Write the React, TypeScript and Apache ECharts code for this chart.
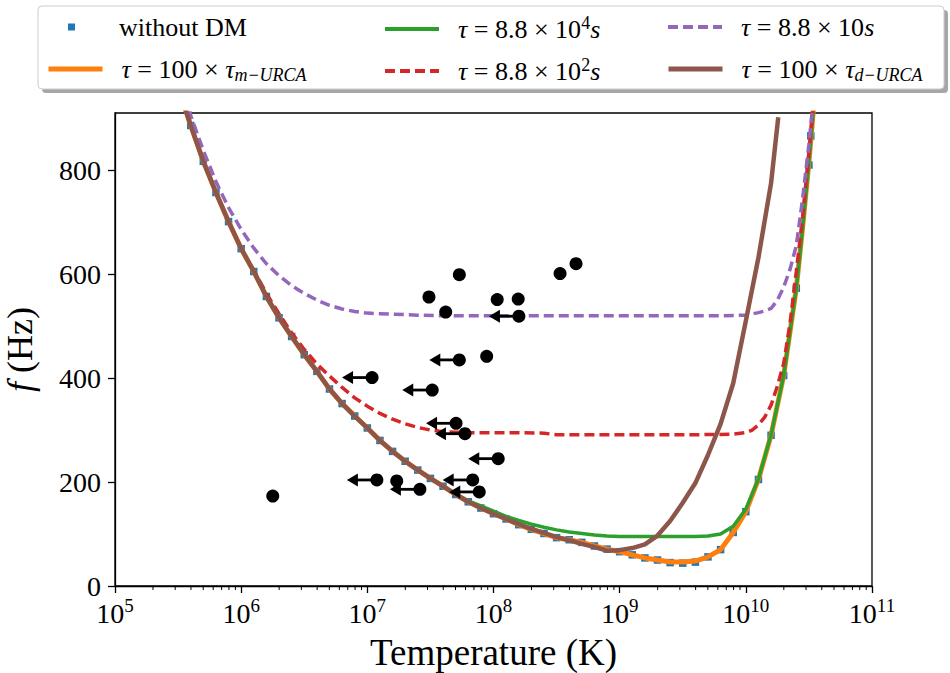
import React, { useEffect, useRef } from 'react';
import * as echarts from 'echarts';

const FONT = 'Liberation Serif';

// ---- curves: log10(T [K]) and f [Hz] ----
const squareLogT = [5.6,5.7,5.8,5.9,6.0,6.1,6.2,6.3,6.4,6.5,6.6,6.7,6.8,6.9,7.0,7.1,7.2,7.3,7.4,7.5,7.6,7.7,7.8,7.9,8.0,8.1,8.2,8.3,8.4,8.5,8.6,8.7,8.8,8.9,9.0,9.1,9.2,9.3,9.4,9.5,9.6,9.7,9.8,9.9,10.0,10.1,10.2,10.3,10.4,10.5,10.515];
const squareF = [886,817,757,701,649,605,557,516,480,445,413,379,351,327,304,280,259,240,223,207,192,176,162,150,139,129,118,109,101,93,89,84,77,71,66,60,54,50,45,44,46,56,70,103,143,205,290,405,573,810,866];

const orangeLogT = [5.5,5.6,5.7,5.8,5.9,6.0,6.1,6.2,6.3,6.4,6.5,6.6,6.7,6.8,6.9,7.0,7.1,7.2,7.3,7.4,7.5,7.6,7.7,7.8,7.9,8.0,8.1,8.2,8.3,8.4,8.5,8.6,8.7,8.8,8.9,9.0,9.1,9.2,9.3,9.4,9.5,9.6,9.7,9.8,9.9,10.0,10.1,10.2,10.3,10.4,10.45,10.5,10.54];
const orangeF = [960,886,817,757,701,649,605,557,516,480,445,413,379,351,327,304,280,259,240,223,207,192,176,162,150,139,129,118,109,101,93,89,84,77,71,66,60,54,50,46,46,48,56,70,103,143,205,290,405,573,690,815,930];

const greenLogT = [5.5,5.6,5.7,5.8,5.9,6.0,6.1,6.2,6.3,6.4,6.5,6.6,6.7,6.8,6.9,7.0,7.1,7.2,7.3,7.4,7.5,7.6,7.7,7.8,7.9,8.0,8.1,8.2,8.3,8.4,8.5,8.6,8.7,8.8,8.9,9.0,9.1,9.2,9.3,9.4,9.5,9.6,9.7,9.8,9.9,10.0,10.1,10.2,10.3,10.4,10.45,10.5,10.54];
const greenF = [960,886,817,757,701,649,605,557,516,480,445,413,379,351,327,304,280,259,240,223,207,192,177,164,154,144,134,126,119,113,108,104,101,98,96,95,95,95,95,95,95,95,96,100,115,148,206,291,405,573,688,815,930];

const redLogT = [5.5,5.6,5.7,5.8,5.9,6.0,6.1,6.2,6.3,6.4,6.5,6.6,6.7,6.8,6.9,7.0,7.1,7.2,7.3,7.4,7.5,7.6,7.7,7.8,8.0,8.2,8.4,8.5,8.7,9.0,9.3,9.6,9.9,10.0,10.05,10.1,10.15,10.2,10.25,10.3,10.35,10.4,10.45,10.5,10.54];
const redF = [960,886,817,757,701,649,607,563,524,487,455,427,404,382,362,346,332,321,312,305,300,297,296,295,295,295,294,291,291,291,291,291,292,295,300,310,325,348,385,428,505,605,710,835,940];

const purpleLogT = [5.5,5.6,5.7,5.8,5.9,6.0,6.1,6.2,6.3,6.4,6.5,6.6,6.7,6.8,6.9,7.0,7.1,7.2,7.3,7.4,7.6,8.0,8.5,9.0,9.5,9.8,10.0,10.1,10.15,10.2,10.25,10.3,10.35,10.4,10.45,10.5,10.54];
const purpleF = [1030,905,838,778,728,686,650,620,597,578,563,550,540,533,528,525,524,523,522,521,520,520,520,520,520,520,521,526,529,534,550,575,609,655,745,850,950];

const brownLogT = [5.5,5.6,5.7,5.8,5.9,6.0,6.1,6.2,6.3,6.4,6.5,6.6,6.7,6.8,6.9,7.0,7.1,7.2,7.3,7.4,7.5,7.6,7.7,7.8,7.9,8.0,8.1,8.2,8.3,8.4,8.5,8.6,8.7,8.8,8.9,9.0,9.1,9.2,9.3,9.4,9.5,9.6,9.7,9.8,9.9,10.0,10.1,10.2,10.257];
const brownF = [960,886,817,757,701,649,605,557,516,480,445,413,379,351,327,304,280,259,240,223,207,192,176,162,150,139,129,119,110,102,94,88,81,75,68,69,73,80,97,125,160,198,252,312,390,510,632,775,902];

// ---- observed pulsars ----
const detectT = [1.78e6, 5.36e7, 3.08e7, 4.18e7, 1.07e8, 1.57e8, 3.37e8, 4.51e8, 8.83e7, 1.71e7];
const detectF = [173, 599, 556, 527, 551, 552, 601, 620, 442, 202];
const limitT = [1.59e8, 5.36e7, 1.09e7, 3.27e7, 5.05e7, 5.94e7, 1.09e8, 1.19e7, 2.61e7, 6.84e7, 7.71e7];
const limitF = [519, 435, 401, 377, 313, 293, 245, 204, 186, 204, 181];

// ---- axis ticks ----
const yTicks = [0, 200, 400, 600, 800];
const minorDecades = [1e5, 1e6, 1e7, 1e8, 1e9, 1e10];
const minorMultipliers = [2, 3, 4, 5, 6, 7, 8, 9];

// ---- series names ----
const N0 = 'without DM';
const N1 = 'τ = 100 × τm−URCA';
const N2 = 'τ = 8.8 × 10⁴s';
const N3 = 'τ = 8.8 × 10²s';
const N4 = 'τ = 8.8 × 10s';
const N5 = 'τ = 100 × τd−URCA';

const legendRich: Record<string, string> = {
  [N0]: '{gap0| }{n|without DM}',
  [N1]: '{gap| }{i|τ}{n| = 100 × }{i|τ}{sub|m−URCA}',
  [N2]: '{gap| }{i|τ}{n| = 8.8 × 10}{sup|4}{i|s}',
  [N3]: '{gap| }{i|τ}{n| = 8.8 × 10}{sup|2}{i|s}',
  [N4]: '{gap| }{i|τ}{n| = 8.8 × 10}{i|s}',
  [N5]: '{gap| }{i|τ}{n| = 100 × }{i|τ}{sub|d−URCA}',
};

const LFS = 26;
const richStyles = {
  n: { fontFamily: FONT, fontSize: LFS, lineHeight: 30, color: '#000' },
  i: { fontFamily: FONT, fontSize: LFS, fontStyle: 'italic', lineHeight: 30, color: '#000' },
  sup: { fontFamily: FONT, fontSize: 18, lineHeight: 18, verticalAlign: 'top', color: '#000' },
  sub: { fontFamily: FONT, fontSize: 18, fontStyle: 'italic', lineHeight: 18, verticalAlign: 'bottom', color: '#000' },
  gap: { width: 14, fontSize: LFS, lineHeight: 30 },
  gap0: { width: 39, fontSize: LFS, lineHeight: 30 },
};

const COLORS = { blue: '#1f77b4', orange: '#ff7f0e', green: '#2ca02c', red: '#d62728', purple: '#9467bd', brown: '#8c564b' };
const DASH = [10, 5];

const pts = (lt: number[], f: number[]) => lt.map((l, i) => [Math.pow(10, l), f[i]]);
const pts2 = (t: number[], f: number[]) => t.map((v, i) => [v, f[i]]);

function makeLegend(name: string, left: number, top: number, w: number, h: number, line?: { color: string; width: number; dash?: number[] }) {
  return {
    show: true,
    data: [name],
    left,
    top,
    padding: 0,
    itemWidth: w,
    itemHeight: h,
    selectedMode: false,
    itemStyle: line ? { opacity: 0, borderWidth: 0 } : { opacity: 1 },
    lineStyle: line ? { color: line.color, width: line.width, type: line.dash || 'solid', opacity: 1 } : undefined,
    formatter: (n: string) => legendRich[n],
    textStyle: { rich: richStyles, fontFamily: FONT, fontSize: LFS },
  };
}

function buildOption() {
  const minorTicks: number[][] = [];
  minorDecades.forEach((d) => minorMultipliers.forEach((m) => minorTicks.push([m * d, 0])));

  return {
    animation: false,
    backgroundColor: '#fff',
    textStyle: { fontFamily: FONT },
    grid: {
      left: 115, right: 78, top: 113, bottom: 87, containLabel: false, outerBoundsMode: 'none',
      show: true, borderColor: '#000', borderWidth: 1.3, backgroundColor: 'transparent',
    },
    graphic: [
      { type: 'rect', z: 0, shape: { x: 42, y: 10, width: 906, height: 83, r: 4 }, style: { fill: 'rgba(0,0,0,0.35)' } },
      { type: 'rect', z: 1, shape: { x: 38, y: 6, width: 906, height: 83, r: 4 }, style: { fill: '#fff', stroke: '#cccccc', lineWidth: 1 } },
    ],
    legend: [
      makeLegend(N0, 68, 14, 7, 7),
      makeLegend(N1, 46, 56, 54, 14, { color: COLORS.orange, width: 5 }),
      makeLegend(N2, 383, 14, 54, 14, { color: COLORS.green, width: 4 }),
      makeLegend(N3, 383, 56, 54, 14, { color: COLORS.red, width: 4, dash: DASH }),
      makeLegend(N4, 666, 14, 54, 14, { color: COLORS.purple, width: 4, dash: DASH }),
      makeLegend(N5, 666, 56, 54, 14, { color: COLORS.brown, width: 5 }),
    ],
    xAxis: {
      type: 'log',
      logBase: 10,
      min: 1e5,
      max: 1e11,
      name: 'Temperature (K)',
      nameLocation: 'middle',
      nameGap: 47,
      nameTextStyle: { fontFamily: FONT, fontSize: 37, lineHeight: 38, color: '#000' },
      axisLine: { show: true, lineStyle: { color: '#000', width: 1.3 } },
      axisTick: { show: true, length: 7, inside: false, lineStyle: { color: '#000', width: 1.3 } },
      splitLine: { show: false },
      minorTick: { show: false },
      axisLabel: {
        margin: 10,
        color: '#000',
        formatter: (v: number) => `{b|10}{s|${Math.round(Math.log10(v))}}`,
        rich: {
          b: { fontFamily: FONT, fontSize: 28, lineHeight: 34, color: '#000' },
          s: { fontFamily: FONT, fontSize: 19, lineHeight: 20, verticalAlign: 'top', color: '#000' },
        },
      },
    },
    yAxis: {
      type: 'value',
      min: 0,
      max: 910,
      interval: 200,
      name: '{i|f}{n| (Hz)}',
      nameLocation: 'middle',
      nameGap: 76,
      nameTextStyle: {
        rich: {
          i: { fontFamily: FONT, fontSize: 36, fontStyle: 'italic', lineHeight: 38, color: '#000' },
          n: { fontFamily: FONT, fontSize: 36, lineHeight: 38, color: '#000' },
        },
      },
      axisLine: { show: true, lineStyle: { color: '#000', width: 1.3 } },
      axisTick: { show: true, length: 7, inside: false, customValues: yTicks, lineStyle: { color: '#000', width: 1.3 } },
      splitLine: { show: false },
      axisLabel: { customValues: yTicks, margin: 14, color: '#000', fontFamily: FONT, fontSize: 28 },
    },
    series: [
      {
        name: N0, type: 'scatter', data: pts(squareLogT, squareF), symbol: 'rect', symbolSize: 7.5,
        itemStyle: { color: COLORS.blue, opacity: 1 }, z: 2, silent: true,
      },
      {
        name: N1, type: 'line', data: pts(orangeLogT, orangeF), symbol: 'none', showSymbol: false,
        lineStyle: { color: COLORS.orange, width: 5 }, itemStyle: { color: COLORS.orange }, z: 3, silent: true,
      },
      {
        name: N2, type: 'line', data: pts(greenLogT, greenF), symbol: 'none', showSymbol: false,
        lineStyle: { color: COLORS.green, width: 3.5 }, itemStyle: { color: COLORS.green }, z: 4, silent: true,
      },
      {
        name: N3, type: 'line', data: pts(redLogT, redF), symbol: 'none', showSymbol: false,
        lineStyle: { color: COLORS.red, width: 3.5, type: DASH }, itemStyle: { color: COLORS.red }, z: 5, silent: true,
      },
      {
        name: N4, type: 'line', data: pts(purpleLogT, purpleF), symbol: 'none', showSymbol: false,
        lineStyle: { color: COLORS.purple, width: 3.5, type: DASH }, itemStyle: { color: COLORS.purple }, z: 6, silent: true,
      },
      {
        name: N5, type: 'line', data: pts(brownLogT, brownF), symbol: 'none', showSymbol: false,
        lineStyle: { color: COLORS.brown, width: 4.5 }, itemStyle: { color: COLORS.brown }, z: 7, silent: true,
      },
      {
        name: 'limits', type: 'custom', coordinateSystem: 'cartesian2d', data: pts2(limitT, limitF), z: 10, silent: true,
        encode: { x: 0, y: 1 },
        renderItem: (_p: any, api: any) => {
          const p = api.coord([api.value(0), api.value(1)]);
          const tip = p[0] - 30;
          return {
            type: 'group',
            children: [
              { type: 'line', shape: { x1: p[0], y1: p[1], x2: tip + 8, y2: p[1] }, style: { stroke: '#000', lineWidth: 2.8 } },
              { type: 'polygon', shape: { points: [[tip, p[1]], [tip + 11, p[1] - 6.5], [tip + 11, p[1] + 6.5]] }, style: { fill: '#000' } },
            ],
          };
        },
      },
      {
        name: 'pulsars', type: 'scatter', data: pts2(detectT, detectF).concat(pts2(limitT, limitF)),
        symbol: 'circle', symbolSize: 13, itemStyle: { color: '#000', opacity: 1 }, z: 11, silent: true,
      },
      {
        name: 'minor', type: 'custom', coordinateSystem: 'cartesian2d', data: minorTicks, z: 12, silent: true, clip: false,
        encode: { x: 0, y: 1 },
        renderItem: (_p: any, api: any) => {
          const p = api.coord([api.value(0), 0]);
          return { type: 'line', shape: { x1: p[0], y1: p[1], x2: p[0], y2: p[1] + 4 }, style: { stroke: '#000', lineWidth: 1 } };
        },
      },
    ],
  };
}

export default function App() {
  const ref = useRef<HTMLDivElement>(null);
  useEffect(() => {
    document.body.style.margin = '0';
    const chart = echarts.init(ref.current!, null, { renderer: 'svg' });
    chart.setOption(buildOption() as any);
    return () => chart.dispose();
  }, []);
  return <div ref={ref} style={{ width: 950, height: 673, position: 'absolute', left: 0, top: 0 }} />;
}
